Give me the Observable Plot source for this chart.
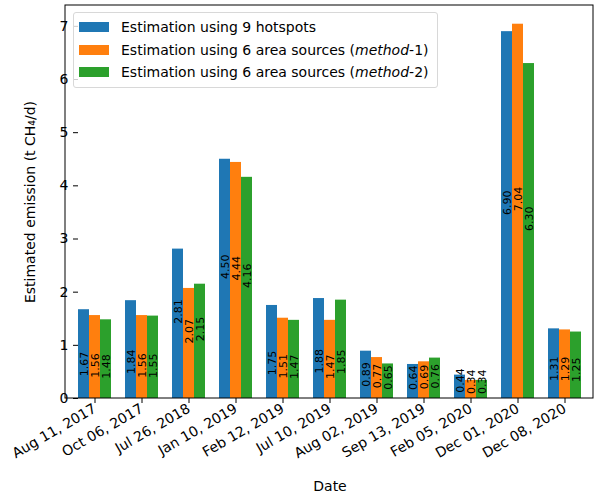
<!DOCTYPE html>
<html>
<head>
<meta charset="utf-8">
<script src="https://cdn.jsdelivr.net/npm/d3@7"></script>
<script src="https://cdn.jsdelivr.net/npm/@observablehq/plot@0.6"></script>
<style>
  body { margin: 0; background: #fff; font-family: "DejaVu Sans", sans-serif; }
  #chart { position: relative; width: 600px; height: 497px; }
  .legend {
    position: absolute; left: 73px; top: 12px;
    padding: 3px 8px 3px 5px;
    border: 1px solid #d8d8d8; border-radius: 3px;
    background: rgba(255,255,255,0.8);
    font-size: 14px; color: #000;
  }
  .legend div { display: flex; align-items: center; height: 22.5px; white-space: nowrap; }
  .legend span.sw { width: 30px; height: 10px; margin-right: 12px; display: inline-block; }
</style>
</head>
<body>
<div id="chart"></div>
<script>
const dates = ["Aug 11, 2017", "Oct 06, 2017", "Jul 26, 2018", "Jan 10, 2019", "Feb 12, 2019",
  "Jul 10, 2019", "Aug 02, 2019", "Sep 13, 2019", "Feb 05, 2020", "Dec 01, 2020", "Dec 08, 2020"]
const hotspots = [1.67, 1.84, 2.81, 4.50, 1.75, 1.88, 0.89, 0.64, 0.44, 6.90, 1.31]
const method1  = [1.56, 1.56, 2.07, 4.44, 1.51, 1.47, 0.77, 0.69, 0.34, 7.04, 1.29]
const method2  = [1.48, 1.55, 2.15, 4.16, 1.47, 1.85, 0.65, 0.76, 0.34, 6.30, 1.25]
const series = ["hotspots", "method1", "method2"]
const seriesNames = ["Estimation using 9 hotspots",
  "Estimation using 6 area sources (<i>method</i>-1)",
  "Estimation using 6 area sources (<i>method</i>-2)"]
const colors = ["#1f77b4", "#ff7f0e", "#2ca02c"]
const yTicks = [0, 1, 2, 3, 4, 5, 6, 7]

// tabla larga: una fila por barra
const table = []
const values = [hotspots, method1, method2]
dates.forEach((d, i) => {
  series.forEach((s, j) => table.push({date: d, series: s, value: values[j][i]}))
})

const W = 600, H = 497
const mL = 65, mR = 7, mT = 5, mB = 99

let chart = Plot.plot({
  width: W,
  height: H,
  marginLeft: mL,
  marginRight: mR,
  marginTop: mT,
  marginBottom: mB,
  style: {fontFamily: "DejaVu Sans", fontSize: "14px", color: "#000", background: "#fff"},
  fx: {domain: dates, paddingInner: 0.3, paddingOuter: 0.243},
  x: {domain: series, padding: 0, axis: null},
  y: {domain: [0, 7.392]},
  color: {domain: series, range: colors},
  marks: [
    Plot.axisFx({
      anchor: "bottom",
      tickRotate: -30,
      tickSize: 5,
      tickPadding: 4,
      fontSize: 14,
      label: "Date",
      labelAnchor: "center",
      labelArrow: "none",
      labelOffset: 92
    }),
    Plot.axisY(yTicks, {
      tickSize: 5,
      tickPadding: 5,
      tickFormat: d => String(d),
      fontSize: 14,
      label: "Estimated emission (t CH₄/d)",
      labelAnchor: "center",
      labelArrow: "none",
      labelOffset: 53
    }),
    Plot.barY(table, {fx: "date", x: "series", y: "value", fill: "series"}),
    // etiquetas de valor, giradas dentro de cada barra
    Plot.text(table, {
      fx: "date", x: "series",
      y: d => d.value > 2 ? d.value / 2 : d.value / 4,
      text: d => d.value.toFixed(2),
      rotate: -90,
      textAnchor: "start",
      fontSize: 11,
      fill: "#000"
    })
  ]
})

d3.select('#chart').append(() => chart)

// marco de los ejes (estilo matplotlib)
d3.select(chart).append("rect")
  .attr("x", mL).attr("y", mT)
  .attr("width", W - mL - mR).attr("height", H - mT - mB)
  .attr("fill", "none").attr("stroke", "#000").attr("stroke-width", 1)

const legend = d3.select('#chart').append("div").attr("class", "legend")
seriesNames.forEach((name, i) => {
  const row = legend.append("div")
  row.append("span").attr("class", "sw").style("background", colors[i])
  row.append("span").html(name)
})
</script>
</body>
</html>
